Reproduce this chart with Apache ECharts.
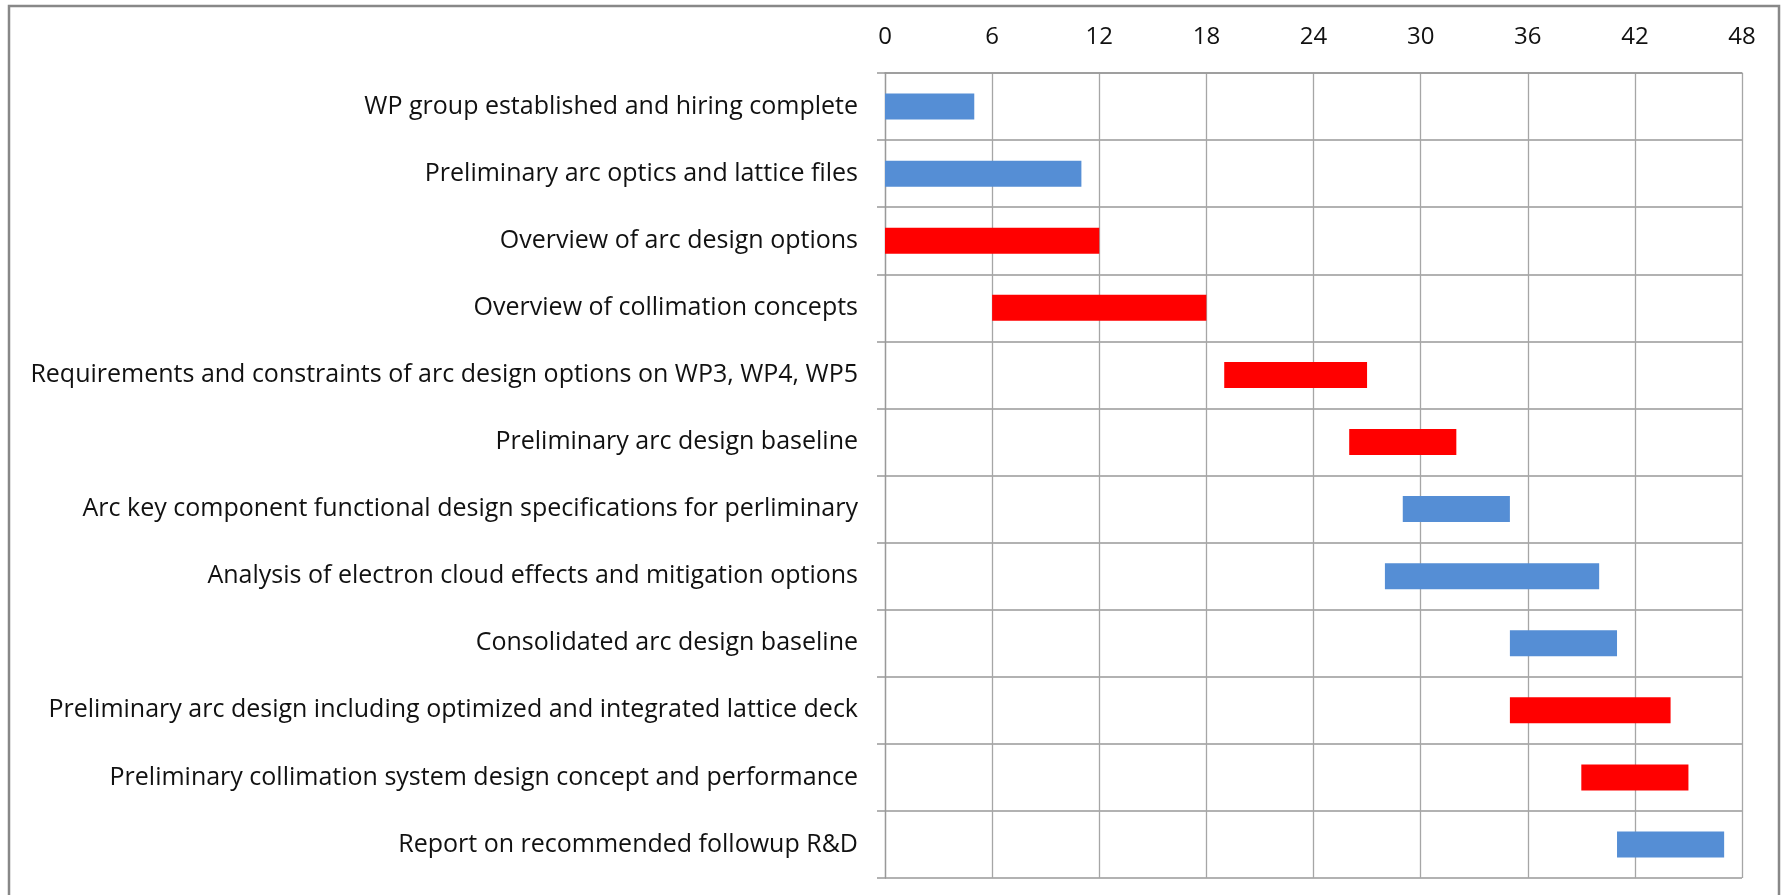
<!DOCTYPE html>
<html>
<head>
    <meta charset="UTF-8">
    <title>WP schedule</title>
    <style>
        html, body { margin: 0; padding: 0; background: #fff; }
        #main { width: 1781px; height: 895px; }
    </style>
</head>
<body>
<div id="main"></div>
<script src="https://cdn.jsdelivr.net/npm/echarts@6/dist/echarts.min.js"></script>
<script>
    // task names, top to bottom
    var tasks = [
        'WP group established and hiring complete',
        'Preliminary arc optics and lattice files',
        'Overview of arc design options',
        'Overview of collimation concepts',
        'Requirements and constraints of arc design options on WP3, WP4, WP5',
        'Preliminary arc design baseline',
        'Arc key component functional design specifications for perliminary',
        'Analysis of electron cloud effects and mitigation options',
        'Consolidated arc design baseline',
        'Preliminary arc design including optimized and integrated lattice deck',
        'Preliminary collimation system design concept and performance',
        'Report on recommended followup R&D'
    ];
    // start month and length in months
    var startMonth = [0, 0, 0, 6, 19, 26, 29, 28, 35, 35, 39, 41];
    var duration   = [5, 11, 12, 12, 8, 6, 6, 12, 6, 9, 6, 6];
    // red bars vs blue bars
    var isRed = [false, false, true, true, true, true, false, false, false, true, true, false];
    var monthTicks = [0, 6, 12, 18, 24, 30, 36, 42, 48];

    var font = 'Open Sans';
    var myChart = echarts.init(document.getElementById('main'));
    var option = {
        animation: false,
        grid: { left: 885, right: 39, top: 73, bottom: 17 },
        graphic: [{
            type: 'rect',
            shape: { x: 9, y: 6, width: 1770, height: 900 },
            style: { fill: 'none', stroke: '#888', lineWidth: 2.5 },
            silent: true
        }],
        xAxis: {
            type: 'value',
            position: 'top',
            min: monthTicks[0],
            max: monthTicks[monthTicks.length - 1],
            interval: monthTicks[1] - monthTicks[0],
            axisLine: { show: true, lineStyle: { color: '#999', width: 1.5 } },
            axisTick: { show: false },
            axisLabel: { margin: 24, color: '#111', fontSize: 24, fontFamily: font },
            splitLine: { show: true, lineStyle: { color: '#a6a6a6', width: 1.3 } }
        },
        yAxis: {
            type: 'category',
            inverse: true,
            data: tasks,
            axisLine: { show: true, lineStyle: { color: '#999', width: 1.3 } },
            axisTick: { show: true, length: 8, inside: false, lineStyle: { color: '#999', width: 1.5 } },
            axisLabel: { margin: 27, color: '#111', fontSize: 25, fontFamily: font, padding: [4, 0, 0, 0] },
            splitLine: { show: true, lineStyle: { color: '#999', width: 1.5 } }
        },
        series: [
            {
                name: 'start',
                type: 'bar',
                stack: 'gantt',
                barWidth: 26,
                silent: true,
                itemStyle: { color: 'transparent' },
                data: startMonth
            },
            {
                name: 'duration',
                type: 'bar',
                stack: 'gantt',
                barWidth: 26,
                itemStyle: {
                    color: function (p) {
                        return isRed[p.dataIndex] ? '#ff0000' : '#558ed5';
                    }
                },
                data: duration
            }
        ]
    };
    myChart.setOption(option);
</script>
</body>
</html>
